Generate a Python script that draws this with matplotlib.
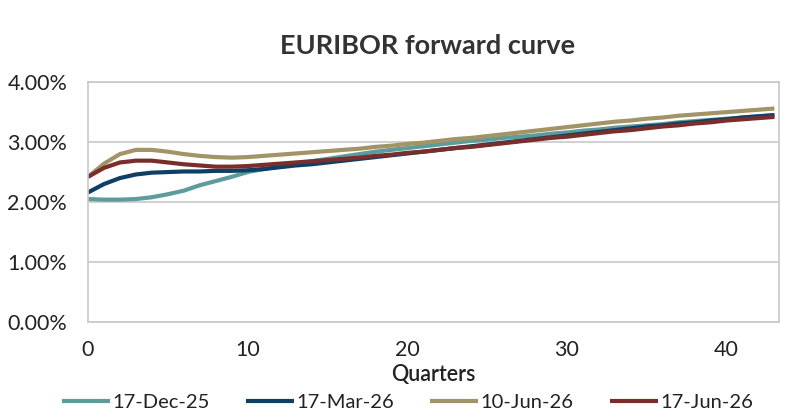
import numpy as np
import matplotlib.pyplot as plt
from matplotlib.ticker import FuncFormatter

quarters = list(range(44))

dec_25 = [2.05, 2.04, 2.04, 2.05, 2.08, 2.13, 2.19, 2.28, 2.35, 2.42,
          2.50, 2.55, 2.60, 2.64, 2.68, 2.72, 2.76, 2.80, 2.84, 2.87,
          2.90, 2.93, 2.96, 2.99, 3.02, 3.04, 3.07, 3.09, 3.11, 3.14,
          3.16, 3.19, 3.21, 3.24, 3.26, 3.28, 3.30, 3.33, 3.35, 3.37,
          3.39, 3.41, 3.43, 3.45]
mar_26 = [2.16, 2.30, 2.40, 2.46, 2.49, 2.50, 2.51, 2.51, 2.52, 2.52,
          2.53, 2.55, 2.58, 2.61, 2.63, 2.66, 2.69, 2.72, 2.75, 2.78,
          2.81, 2.84, 2.87, 2.90, 2.93, 2.96, 2.99, 3.02, 3.05, 3.08,
          3.11, 3.14, 3.17, 3.20, 3.23, 3.26, 3.28, 3.31, 3.33, 3.36,
          3.38, 3.41, 3.43, 3.45]
jun10_26 = [2.42, 2.64, 2.80, 2.87, 2.87, 2.84, 2.80, 2.77, 2.75, 2.74,
            2.75, 2.77, 2.79, 2.81, 2.83, 2.85, 2.87, 2.89, 2.92, 2.94,
            2.97, 2.99, 3.02, 3.05, 3.07, 3.10, 3.13, 3.16, 3.19, 3.22,
            3.25, 3.28, 3.31, 3.34, 3.36, 3.39, 3.41, 3.44, 3.46, 3.48,
            3.50, 3.52, 3.54, 3.56]
jun17_26 = [2.42, 2.57, 2.66, 2.69, 2.69, 2.66, 2.63, 2.61, 2.59, 2.59,
            2.60, 2.62, 2.64, 2.66, 2.68, 2.70, 2.72, 2.74, 2.77, 2.79,
            2.82, 2.84, 2.87, 2.90, 2.92, 2.95, 2.98, 3.01, 3.04, 3.07,
            3.09, 3.12, 3.15, 3.18, 3.20, 3.23, 3.26, 3.28, 3.31, 3.33,
            3.36, 3.38, 3.40, 3.42]

labels = ["17-Dec-25", "17-Mar-26", "10-Jun-26", "17-Jun-26"]
colors = ["#5E9C9B", "#0E3F66", "#A39467", "#7A2E2B"]

plt.rcParams['font.family'] = ['Lato', 'DejaVu Sans']

fig = plt.figure(figsize=(8, 4.17), dpi=100)
ax = fig.add_axes([0.11, 0.228, 0.864, 0.575])

for series, lab, col in zip([dec_25, mar_26, jun10_26, jun17_26], labels, colors):
    ax.plot(quarters, series, color=col, lw=3, label=lab,
            solid_capstyle='butt', solid_joinstyle='round')

ax.set_xlim(0, 43.3)
ax.set_ylim(0, 4)
ax.set_yticks([0, 1, 2, 3, 4])
ax.set_xticks([0, 10, 20, 30, 40])
ax.yaxis.set_major_formatter(FuncFormatter(lambda v, p: f"{v:.2f}%"))
ax.tick_params(length=0, labelsize=15.5, colors="#222222")
ax.tick_params(axis='y', pad=15)
ax.tick_params(axis='x', pad=13)
ax.grid(axis='y', color="#C8C8C8", lw=1.2)
ax.set_axisbelow(True)
for s in ax.spines.values():
    s.set_color("#C8C8C8")
    s.set_linewidth(1.2)

ax.set_xlabel("Quarters", fontsize=15.5, color="#222222", labelpad=3,
              fontweight='semibold')
fig.suptitle("EURIBOR forward curve", x=0.535, y=0.918, fontsize=19.5,
             fontweight='bold', color="#333333")

ax.legend(loc='upper center', bbox_to_anchor=(0.462, -0.2675), ncol=4,
          frameon=False, fontsize=14.5, handlelength=2.4, handletextpad=0.1,
          columnspacing=1.8, labelcolor="#222222", borderaxespad=0)

fig.savefig("out.png", dpi=100)
